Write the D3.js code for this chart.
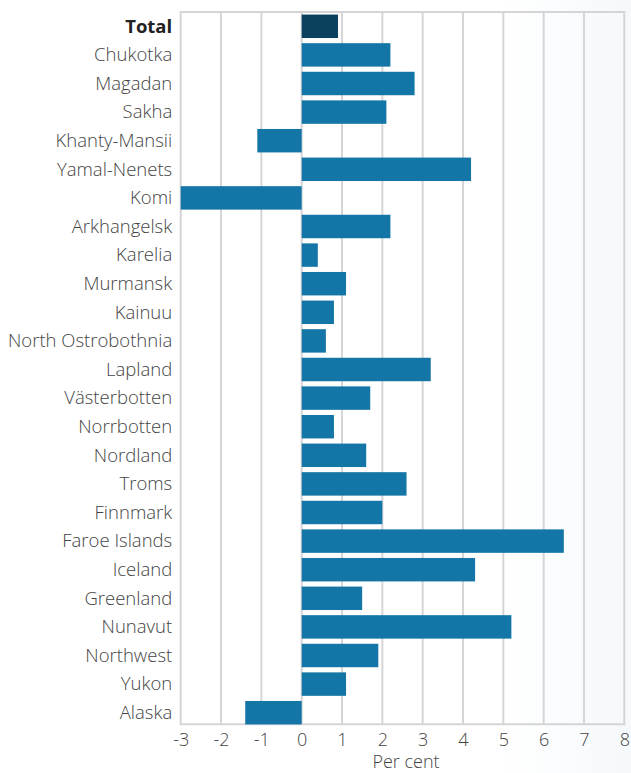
<!DOCTYPE html>
<html>
<head>
<meta charset="utf-8">
<script src="https://cdn.jsdelivr.net/npm/d3@7"></script>
<style>
  html, body { margin: 0; padding: 0; background: #fff; }
  svg { display: block; }
  text { font-family: "Open Sans", sans-serif; }
</style>
</head>
<body>
<svg id="chart" width="631" height="773"></svg>
<script>
const categories = ["Total", "Chukotka", "Magadan ", "Sakha", "Khanty-Mansii", "Yamal-Nenets", "Komi",
  "Arkhangelsk", "Karelia", "Murmansk", "Kainuu", "North Ostrobothnia", "Lapland", "Västerbotten",
  "Norrbotten", "Nordland", "Troms", "Finnmark", "Faroe Islands", "Iceland", "Greenland", "Nunavut",
  "Northwest", "Yukon", "Alaska"];
const values = [0.9, 2.2, 2.8, 2.1, -1.1, 4.2, -3.0,
  2.2, 0.4, 1.1, 0.8, 0.6, 3.2, 1.7,
  0.8, 1.6, 2.6, 2.0, 6.5, 4.3, 1.5, 5.2,
  1.9, 1.1, -1.4];
const xTicks = [-3, -2, -1, 0, 1, 2, 3, 4, 5, 6, 7, 8];
const xTitle = "Per cent";

const svg = d3.select("#chart");
const W = 631, H = 773;
const m = { left: 180.7, right: 6.7, top: 12 };
const plotBottom = 724.3;

// faint background tint on the right
const defs = svg.append("defs");
const grad = defs.append("linearGradient").attr("id", "bg").attr("x1", "0").attr("x2", "1").attr("y1", "0").attr("y2", "0");
grad.append("stop").attr("offset", "0").attr("stop-color", "#ffffff");
grad.append("stop").attr("offset", "1").attr("stop-color", "#f5f9fb");
svg.append("rect").attr("x", 500).attr("y", 0).attr("width", W - 500).attr("height", H).attr("fill", "url(#bg)");

const x = d3.scaleLinear().domain([-3, 8]).range([m.left, W - m.right]);
const y = d3.scaleBand().domain(categories).range([m.top, 727]).paddingInner(0.18).paddingOuter(0.09);

// gridlines
svg.append("g")
  .selectAll("line")
  .data(xTicks)
  .join("line")
  .attr("x1", d => x(d)).attr("x2", d => x(d))
  .attr("y1", m.top).attr("y2", plotBottom)
  .attr("stroke", "#d5d5d7").attr("stroke-width", 2);

// top and bottom frame
svg.append("line").attr("x1", x(-3) - 1).attr("x2", x(8) + 1).attr("y1", m.top).attr("y2", m.top)
  .attr("stroke", "#d5d5d7").attr("stroke-width", 2);
svg.append("line").attr("x1", x(-3) - 1).attr("x2", x(8) + 1).attr("y1", plotBottom).attr("y2", plotBottom)
  .attr("stroke", "#d5d5d7").attr("stroke-width", 2);

// bars
svg.append("g")
  .selectAll("rect")
  .data(categories)
  .join("rect")
  .attr("x", (d, i) => x(Math.min(0, values[i])))
  .attr("width", (d, i) => Math.abs(x(values[i]) - x(0)))
  .attr("y", d => y(d))
  .attr("height", y.bandwidth())
  .attr("fill", (d, i) => i === 0 ? "#0b405e" : "#1376a6");

// category labels
const yAxis = svg.append("g")
  .attr("transform", `translate(${m.left - 8.5},0)`)
  .call(d3.axisLeft(y).tickSize(0).tickPadding(0));
yAxis.select(".domain").remove();
yAxis.selectAll("text")
  .attr("font-size", 18.5)
  .attr("dy", "0.34em")
  .attr("font-family", "'Open Sans', sans-serif")
  .attr("font-weight", d => d === "Total" ? 700 : 300)
  .attr("fill", d => d === "Total" ? "#222" : "#444");

// x axis tick labels
const xAxis = svg.append("g")
  .attr("transform", `translate(0,${plotBottom})`)
  .call(d3.axisBottom(x).tickValues(xTicks).tickSize(0).tickPadding(9).tickFormat(d => String(d)));
xAxis.select(".domain").remove();
xAxis.selectAll("text")
  .attr("font-size", 18)
  .attr("font-weight", 300)
  .attr("fill", "#444")
  .attr("font-family", "'Open Sans', sans-serif");

svg.append("text")
  .attr("x", 406).attr("y", H - 5)
  .attr("text-anchor", "middle")
  .attr("font-size", 18)
  .attr("font-weight", 300)
  .attr("fill", "#444")
  .text(xTitle);
</script>
</body>
</html>
